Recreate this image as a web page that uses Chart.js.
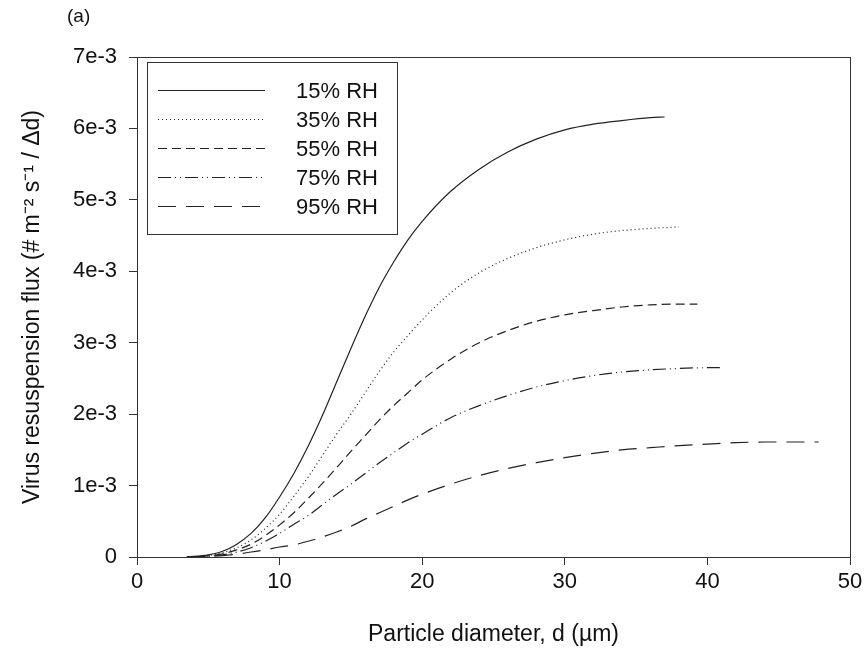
<!DOCTYPE html>
<html>
<head>
<meta charset="utf-8">
<script src="https://cdn.jsdelivr.net/npm/chart.js@4"></script>
<style>
  html, body { margin: 0; padding: 0; background: #fff; }
  #wrap { position: relative; width: 867px; height: 655px; }
  #tag { position: absolute; left: 67px; top: 5px; font: 19px "Liberation Sans", Arial, sans-serif; color: #111; }
</style>
</head>
<body>
<div id="wrap">
  <canvas id="c" width="867" height="655"></canvas>
  <div id="tag">(a)</div>
</div>
<script>
// particle diameter (µm) per series and flux values (×1e-3)
const labels = ['15% RH', '35% RH', '55% RH', '75% RH', '95% RH'];

const d15 = [3.5, 5, 6, 7, 8, 9, 10, 11, 12, 13, 14, 15, 16, 17, 18, 19, 20, 22, 24, 26, 28, 30, 32, 34, 36, 37];
const f15 = [0, 0.03, 0.08, 0.18, 0.33, 0.55, 0.84, 1.17, 1.55, 1.98, 2.45, 2.92, 3.37, 3.78, 4.13, 4.44, 4.7, 5.12, 5.43, 5.67, 5.85, 5.98, 6.06, 6.11, 6.15, 6.16];

const d35 = [3.5, 5, 6, 7, 8, 9, 10, 11, 12, 13, 14, 15, 16, 17, 18, 19, 20, 22, 24, 26, 28, 30, 32, 34, 36, 38];
const f35 = [0, 0.02, 0.06, 0.13, 0.24, 0.4, 0.6, 0.85, 1.12, 1.42, 1.72, 2.0, 2.3, 2.6, 2.87, 3.1, 3.32, 3.7, 3.98, 4.18, 4.33, 4.44, 4.52, 4.57, 4.6, 4.62];

const d55 = [3.5, 5, 6, 7, 8, 9, 10, 11, 12, 13, 14, 15, 16, 17, 18, 19, 20, 22, 24, 26, 28, 30, 32, 34, 36, 38, 39.3];
const f55 = [0, 0.015, 0.045, 0.1, 0.18, 0.3, 0.45, 0.62, 0.82, 1.03, 1.25, 1.48, 1.7, 1.92, 2.12, 2.3, 2.48, 2.77, 3.0, 3.17, 3.3, 3.39, 3.45, 3.5, 3.53, 3.54, 3.54];

const d75 = [3.5, 5, 6, 7, 8, 9, 10, 11, 12, 13, 14, 15, 16, 17, 18, 19, 20, 22, 24, 26, 28, 30, 32, 34, 36, 38, 40, 41];
const f75 = [0, 0.01, 0.03, 0.07, 0.13, 0.22, 0.33, 0.46, 0.58, 0.73, 0.88, 1.02, 1.17, 1.32, 1.46, 1.6, 1.72, 1.95, 2.12, 2.26, 2.38, 2.47, 2.54, 2.59, 2.62, 2.64, 2.65, 2.65];

const d95 = [3.5, 5, 6, 7, 8, 9, 10, 11, 12, 13, 14, 15, 16, 17, 18, 19, 20, 22, 24, 26, 28, 30, 32, 34, 36, 38, 40, 42, 44, 46, 47.8];
const f95 = [0, 0.01, 0.02, 0.04, 0.07, 0.1, 0.14, 0.17, 0.22, 0.28, 0.35, 0.43, 0.53, 0.62, 0.71, 0.8, 0.88, 1.02, 1.14, 1.24, 1.32, 1.39, 1.45, 1.5, 1.53, 1.56, 1.58, 1.6, 1.61, 1.61, 1.61];

const xTicks = [0, 10, 20, 30, 40, 50];
const yTicks = [0, 1, 2, 3, 4, 5, 6, 7]; // ×1e-3

const dashes = [[], [1, 3], [9, 5], [13, 4, 1, 4, 1, 4], [18, 10]];
const FONT = '"Liberation Sans", Arial, sans-serif';

const pts = (d, f) => d.map((x, i) => ({ x: x, y: f[i] / 1000 }));
const series = [pts(d15, f15), pts(d35, f35), pts(d55, f55), pts(d75, f75), pts(d95, f95)];

// frame + boxed legend drawn from dataset styles
const framePlugin = {
  id: 'frame',
  afterDraw(chart) {
    const { ctx, chartArea: a } = chart;
    ctx.save();
    ctx.strokeStyle = '#333';
    ctx.lineWidth = 1;
    ctx.strokeRect(a.left + 0.5, a.top + 0.5, a.right - a.left, a.bottom - a.top);

    // legend box
    ctx.strokeRect(147.5, 62.5, 250, 172);
    chart.data.datasets.forEach((ds, i) => {
      const y = 90.5 + i * 29;
      ctx.beginPath();
      ctx.setLineDash(ds.borderDash || []);
      ctx.lineWidth = 1.2;
      ctx.strokeStyle = '#222';
      ctx.moveTo(158, y);
      ctx.lineTo(265, y);
      ctx.stroke();
      ctx.setLineDash([]);
      ctx.fillStyle = '#111';
      ctx.font = '22px ' + FONT;
      ctx.textBaseline = 'middle';
      ctx.fillText(ds.label, 296, y + 1);
    });
    ctx.restore();
  }
};

new Chart(document.getElementById('c'), {
  type: 'scatter',
  data: {
    datasets: series.map((s, i) => ({
      label: labels[i],
      data: s,
      showLine: true,
      pointRadius: 0,
      borderColor: '#222',
      borderWidth: 1.2,
      borderDash: dashes[i],
      cubicInterpolationMode: 'monotone'
    }))
  },
  options: {
    responsive: false,
    animation: false,
    layout: { padding: { left: 0, right: 17, top: 57, bottom: 0 } },
    plugins: { legend: { display: false }, tooltip: { enabled: false } },
    scales: {
      x: {
        type: 'linear', min: 0, max: 50,
        afterBuildTicks: ax => { ax.ticks = xTicks.map(v => ({ value: v })); },
        afterFit: ax => { ax.height = 98; },
        grid: { drawOnChartArea: false, tickLength: 8, color: '#333' },
        border: { color: '#333' },
        ticks: { color: '#111', font: { family: FONT, size: 22 }, padding: 4 },
        title: { display: true, text: 'Particle diameter, d (µm)', color: '#111', font: { family: FONT, size: 23 }, padding: { top: 4, bottom: 7 } }
      },
      y: {
        type: 'linear', min: 0, max: 0.007,
        afterBuildTicks: ax => { ax.ticks = yTicks.map(v => ({ value: v / 1000 })); },
        afterFit: ax => { ax.width = 137; },
        grid: { drawOnChartArea: false, tickLength: 8, color: '#333' },
        border: { color: '#333' },
        ticks: {
          color: '#111', font: { family: FONT, size: 22 }, padding: 12,
          callback: v => { const k = Math.round(v * 1000); return k === 0 ? '0' : k + 'e-3'; }
        },
        title: { display: true, text: 'Virus resuspension flux (# m⁻² s⁻¹ / Δd)', color: '#111', font: { family: FONT, size: 23 }, padding: { top: 19, bottom: 0 } }
      }
    }
  },
  plugins: [framePlugin]
});
</script>
</body>
</html>
